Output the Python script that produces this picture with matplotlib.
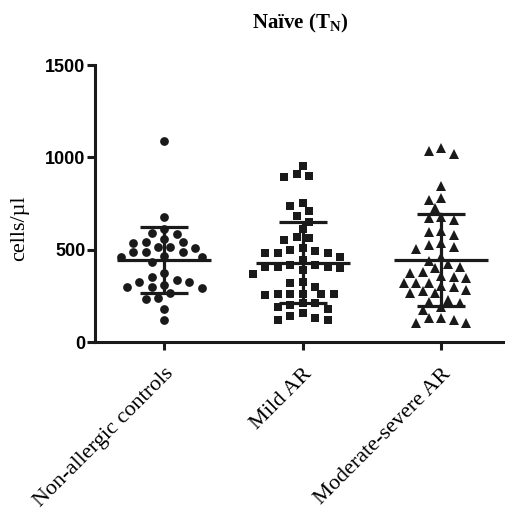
import numpy as np
import matplotlib
matplotlib.use("Agg")
import matplotlib.pyplot as plt

plt.rcParams["mathtext.fontset"] = "custom"
plt.rcParams["mathtext.rm"] = "Liberation Serif"
plt.rcParams["mathtext.bf"] = "Liberation Serif:bold"

# (cells/ul)
groups = ["Non-allergic controls", "Mild AR", "Moderate-severe AR"]
controls = [1088, 678, 612, 592, 585, 558, 543, 538, 543, 516, 509, 516, 489, 486,
            489, 462, 466, 435, 462, 372, 354, 323, 309, 323, 336, 300, 291, 300,
            267, 240, 233, 179, 119]
mild = [953, 908, 895, 899, 751, 711, 738, 682, 651, 610, 561, 552, 567, 498, 484,
        480, 507, 480, 494, 444, 408, 407, 390, 420, 399, 408, 417, 327, 318, 300,
        260, 255, 258, 258, 260, 263, 188, 155, 210, 202, 210, 141, 177, 132, 119,
        122, 460, 370]
severe = [1049, 1016, 1036, 845, 778, 769, 727, 679, 661, 670, 597, 579, 601, 525,
          504, 513, 534, 462, 422, 381, 357, 408, 372, 345, 354, 318, 318, 321, 303,
          282, 264, 264, 276, 300, 227, 218, 188, 173, 210, 128, 119, 101, 105, 128,
          440, 400]
means = [445, 430, 443]
sds = [178, 220, 248]
markers = ["o", "s", "^"]

# pixel scale of the axes, used only to spread the points sideways
PX_X = 138.5
PX_Y = 277 / 1500.0


def swarm(vals, step=0.045, d=9.5):
    order = np.argsort(vals)[::-1]
    placed = []
    offs = np.zeros(len(vals))
    cands = [0]
    for k in range(1, 12):
        cands += [-k, k]
    for i in order:
        v = vals[i]
        for k in cands:
            ok = True
            for (xx, vv) in placed:
                dx = (k * step - xx) * PX_X
                dy = (v - vv) * PX_Y
                if dx * dx + dy * dy < d * d:
                    ok = False
                    break
            if ok:
                placed.append((k * step, v))
                offs[i] = k * step
                break
    return offs


fig = plt.figure(figsize=(5.05, 5.16), dpi=100)
ax = fig.add_axes([0.188, 0.337, 0.812, 0.537])

for i, vals in enumerate([controls, mild, severe]):
    vals = np.asarray(vals, dtype=float)
    x = i + swarm(vals)
    ax.plot(x, vals, linestyle="none", marker=markers[i], color="#1a1a1a",
            markersize=6.3 if i < 2 else 7.0, markeredgewidth=0, clip_on=False)
    ax.hlines(means[i], i - 0.34, i + 0.34, color="#1a1a1a", lw=2.3)
    ax.errorbar(i, means[i], yerr=sds[i], color="#1a1a1a", lw=2.3,
                capsize=17, capthick=2.3, fmt="none")

ax.set_xlim(-0.5, 2.46)
ax.set_ylim(0, 1500)
ax.set_yticks([0, 500, 1000, 1500])
ax.set_xticks([0, 1, 2])
ax.set_xticklabels(groups, rotation=45, ha="right", rotation_mode="anchor",
                   family="Liberation Serif", fontsize=16)
for lab in ax.get_yticklabels():
    lab.set_family("Liberation Sans")
    lab.set_fontweight("bold")
    lab.set_fontsize(13)

for s in ["top", "right"]:
    ax.spines[s].set_visible(False)
for s in ["left", "bottom"]:
    ax.spines[s].set_linewidth(2.2)
    ax.spines[s].set_color("#1a1a1a")
ax.tick_params(axis="both", width=2.2, length=6, color="#1a1a1a")
ax.tick_params(axis="x", pad=10)
ax.tick_params(axis="y", pad=1)

ax.set_ylabel("cells/µl", family="Liberation Serif", fontsize=16)
ax.yaxis.set_label_coords(-0.16, 0.41)
ax.set_title(r"Naïve (T$_\mathbf{N}$)", family="Liberation Serif",
             fontweight="bold", fontsize=15, pad=26)

fig.savefig("out.png", dpi=100)
